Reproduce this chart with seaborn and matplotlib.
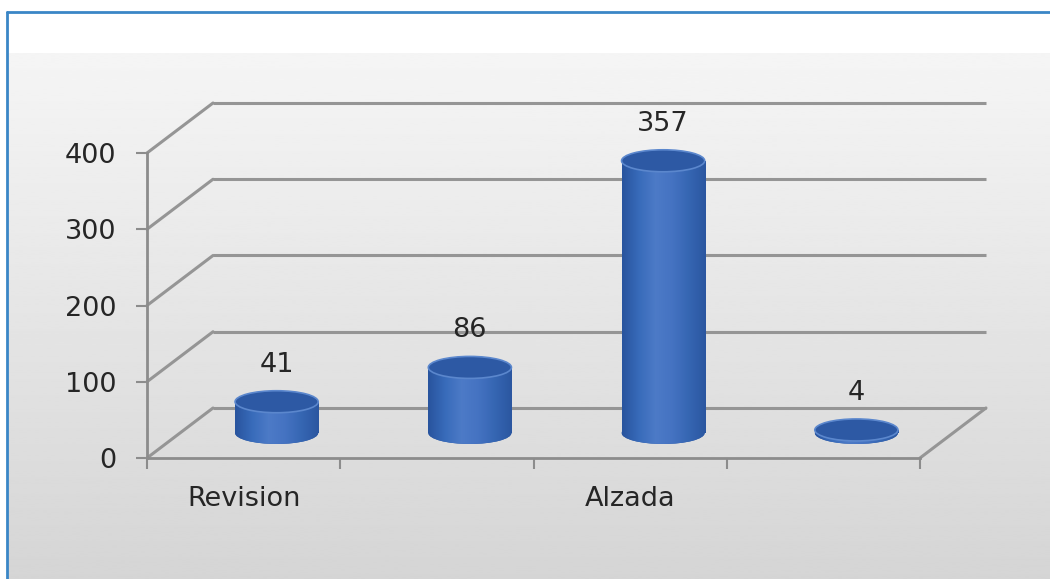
import numpy as np
import matplotlib.pyplot as plt
import seaborn as sns
from matplotlib.patches import Ellipse

# data
positions = [0, 1, 2, 3]
tick_labels = ["Revision", "", "Alzada", ""]
values = [41, 86, 357, 4]
y_ticks = [0, 100, 200, 300, 400]

sns.set_style("white")
plt.rcParams['font.family'] = ['DejaVu Sans']

W, H = 1050, 579
fig = plt.figure(figsize=(W / 100, H / 100), dpi=100)
fig.patch.set_facecolor('white')

# background panel: white band on top, grey gradient below, blue frame
bg = fig.add_axes([0, 0, 1, 1], zorder=-10)
grad = np.linspace(245, 213, 256) / 255
bg.imshow(grad[:, None], cmap='gray', vmin=0, vmax=1,
          extent=[7, W, H, 53], aspect='auto')
bg.plot([7, 7], [12, H], color='#3a86c6', lw=2)
bg.plot([7, W], [12, 12], color='#3a86c6', lw=2)
bg.set_xlim(0, W)
bg.set_ylim(H, 0)
bg.set_axis_off()

# main axes (front plane of the 3D box)
ax_l, ax_b, ax_w, ax_h = 147, 121, 773, 305
ax = fig.add_axes([ax_l / W, ax_b / H, ax_w / W, ax_h / H])
ax.patch.set_alpha(0)

sns.barplot(x=positions, y=values, ax=ax, width=0.43, color='#3563b0',
            saturation=1, linewidth=0, zorder=3)
ax.set_xlim(-0.5, 3.5)
ax.set_ylim(0, 400)

# depth of the box, in data units
DX = 66 / (ax_w / 4)
DY = 50 / (ax_h / 400)
grid_c = '#959595'

for v in y_ticks:
    ax.plot([-0.5 + DX, 3.5 + DX], [v + DY, v + DY], color=grid_c, lw=2.2,
            clip_on=False, zorder=1, solid_capstyle='butt')
    ax.plot([-0.5, -0.5 + DX], [v, v + DY], color=grid_c, lw=2.2,
            clip_on=False, zorder=1)
ax.plot([3.5, 3.5 + DX], [0, DY], color=grid_c, lw=2.2, clip_on=False, zorder=1)

# cylinders
eh = 22 / (ax_h / 400)
shade = np.array([[0.16, 0.33, 0.62], [0.22, 0.42, 0.73], [0.30, 0.48, 0.78],
                  [0.27, 0.45, 0.76], [0.21, 0.40, 0.70], [0.17, 0.34, 0.63]])
xs = np.linspace(0, 1, len(shade))
xx = np.linspace(0, 1, 64)
img = np.stack([np.interp(xx, xs, shade[:, k]) for k in range(3)], axis=-1)[None, :, :]

for p, v in zip(ax.patches, values):
    p.set_x(p.get_x() + DX / 2)
    p.set_y(DY / 2)
    p.set_clip_on(False)
    x0, w, h = p.get_x(), p.get_width(), p.get_height()
    cx = x0 + w / 2
    base = DY / 2
    bottom = Ellipse((cx, base), w, eh, fc='#2f5ca8', lw=0, zorder=2.9, clip_on=False)
    ax.add_patch(bottom)
    for clip in (p, bottom):
        im = ax.imshow(img, extent=[x0, x0 + w, base - eh / 2, base + h],
                       aspect='auto', zorder=3.1, interpolation='bilinear')
        im.set_clip_path(clip)
    ax.add_patch(Ellipse((cx, base + h), w, eh, fc='#2d59a4', ec='#5b87cd',
                         lw=1.2, zorder=4, clip_on=False))
    ax.annotate(f"{v}", xy=(cx, base + h), xytext=(0, 37),
                textcoords='offset pixels', ha='center', va='center',
                fontsize=19.5, color='#262626', annotation_clip=False)

ax.set_xlim(-0.5, 3.5)
ax.set_ylim(0, 400)

# axes, ticks and labels
sns.despine(ax=ax)
for s in ('left', 'bottom'):
    ax.spines[s].set_color('#8c8c8c')
    ax.spines[s].set_linewidth(2)
ax.set_yticks(y_ticks)
ax.set_xticks(positions, tick_labels)
ax.set_xticks([-0.5, 0.5, 1.5, 2.5, 3.5], minor=True)
ax.tick_params(axis='y', left=True, length=8, width=1.5, color='#8c8c8c',
               pad=14, labelsize=19.5, labelcolor='#262626')
ax.tick_params(axis='x', which='major', bottom=True, length=0, pad=20,
               labelsize=19.5, labelcolor='#262626')
ax.tick_params(axis='x', which='minor', bottom=True, length=8, width=1.5,
               color='#8c8c8c')
ax.set_xlabel('')
ax.set_ylabel('')

fig.savefig('out.png', dpi=100)
